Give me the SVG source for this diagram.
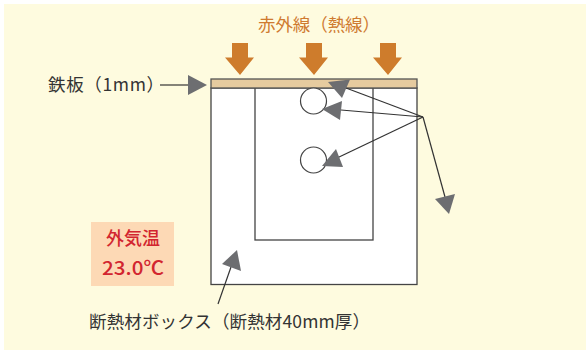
<svg xmlns="http://www.w3.org/2000/svg" width="586" height="350" viewBox="0 0 586 350">
<style>
text{font-family:"Noto Sans CJK JP","Noto Sans",sans-serif;font-weight:400}
.lb{font-size:17.500px;fill:#333}
.in{font-size:17.500px;fill:#cf7a30}
.tmp{fill:#d2252f;text-anchor:middle;font-weight:500}
.ln{fill:none;stroke:#333;stroke-width:1.2}
.head{fill:#6d6e71}
.blk{fill:#ce7c2c}
.box{fill:#fff;stroke:#444;stroke-width:1.3}
</style>
<rect width="586" height="350" fill="#fff"/>
<rect x="4" y="4" width="582" height="346" fill="#fefbdf"/>
<g id="insulation-box"><rect class="box" x="211" y="88" width="206" height="196.500"/></g>
<g id="inner-box"><rect class="box" x="255" y="88" width="118" height="152"/></g>
<g id="iron-plate"><rect x="211" y="79" width="206" height="9" fill="#e6cb9f" stroke="#555" stroke-width="1.300"/></g>
<g id="sensor-top"><circle cx="313.500" cy="101" r="13" fill="#fff" stroke="#444" stroke-width="1.200"/></g>
<g id="sensor-mid"><circle cx="313.500" cy="160" r="13" fill="#fff" stroke="#444" stroke-width="1.200"/></g>
<g id="infrared-arrows">
<polygon class="blk" points="232,43 248,43 248,57.500 254,57.500 240,75 225,57.500 232,57.500"/>
<polygon class="blk" points="306,43 322,43 322,57.500 328,57.500 314,75 299,57.500 306,57.500"/>
<polygon class="blk" points="380,43 396,43 396,57.500 402,57.500 388,75 373,57.500 380,57.500"/>
</g>
<g id="connectors">
<path class="ln" d="M160 85H190"/><polygon class="head" points="188,75 207,85 188,95"/>
<path class="ln" d="M423 117L346 88"/><polygon class="head" points="328,82 350,79.500 342,98"/>
<path class="ln" d="M423 117L341 110"/><polygon class="head" points="322,109 342,101 340,120"/>
<path class="ln" d="M423 117L337 158"/><polygon class="head" points="322,166 336,149 343,167"/>
<path class="ln" d="M423 117L445 197"/><polygon class="head" points="435,199 455,194 449,214"/>
<path class="ln" d="M218 304L231 267"/><polygon class="head" points="237,250 222,264 241,271"/>
</g>
<g id="label-infrared"><text class="in" x="258" y="31" textLength="122" lengthAdjust="spacing">赤外線（熱線）</text></g>
<g id="label-plate"><text class="lb" x="48" y="91" textLength="116" lengthAdjust="spacing">鉄板（1mm）</text></g>
<g id="label-box"><text class="lb" x="89" y="328" textLength="281" lengthAdjust="spacing">断熱材ボックス（断熱材40mm厚）</text></g>
<g id="outside-temp"><rect x="91" y="222" width="83" height="64" fill="#fdd9b5"/>
<text class="tmp" x="133" y="245" font-size="18">外気温</text>
<text class="tmp" x="133" y="275" font-size="19" textLength="62" lengthAdjust="spacingAndGlyphs">23.0℃</text></g>
</svg>
